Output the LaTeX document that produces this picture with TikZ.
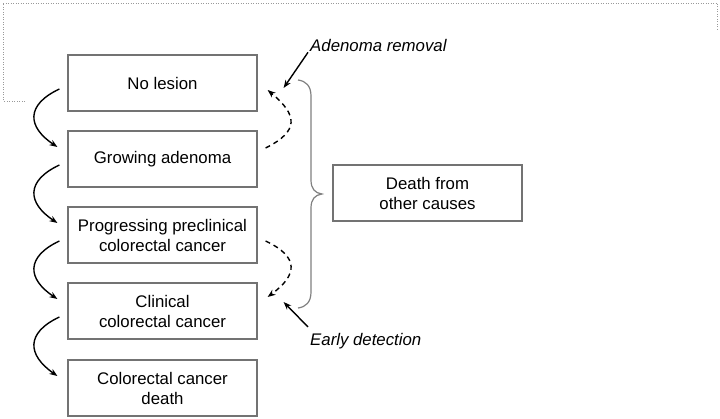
\documentclass[tikz,border=0pt]{standalone}
\usepackage{fontspec}
\setmainfont{Liberation Sans}
\usetikzlibrary{arrows.meta,calc}
\begin{document}
\begin{tikzpicture}[x=1pt,y=-1pt,
  box/.style={draw=black!55,line width=1.2pt,minimum width=189pt,minimum height=56pt,
    align=center,inner sep=0pt,font=\fontsize{16.8}{20}\selectfont},
  lbl/.style={font=\fontsize{16.8}{20}\selectfont\itshape,inner sep=0pt},
  prog/.style={line width=1.4pt,-{Stealth[length=8pt,width=6pt]}},
  back/.style={line width=1.4pt,dash pattern=on 5pt off 4pt,-{Stealth[length=8pt,width=6pt]}},
  brc/.style={draw=black!50,line width=1.2pt}]
\useasboundingbox (0,0) rectangle (720,419);
\draw[black!40,line width=0.8pt,dash pattern=on 1pt off 1.5pt] (25,101) -- (3,101) -- (3,3) -- (717,3) -- (717,30);
\node[box] (n1) at (162.5,83) {No lesion};
\node[box] (n2) at (162.5,159) {Growing adenoma};
\node[box] (n3) at (162.5,235) {Progressing preclinical\\colorectal cancer};
\node[box] (n4) at (162.5,311) {Clinical\\colorectal cancer};
\node[box] (n5) at (162.5,388) {Colorectal cancer\\death};
\node[box] (d) at (427.5,193) {Death from\\other causes};
\node[lbl,anchor=west] (ar) at (310,46) {Adenoma removal};
\node[lbl,anchor=west] (ed) at (310,341) {Early detection};
% progression arrows
\foreach \a/\b in {n1/n2,n2/n3,n3/n4,n4/n5}{
  \draw[prog] ($(\a.west)+(-8,6)$) .. controls ($(\a.west)+(-42,22)$) and ($(\a.west)+(-40,44)$) .. ($(\b.west)+(-10,-12)$);
}
% dashed back arrows
\draw[back] ($(n2.east)+(8,-11)$) .. controls ($(n2.east)+(42,-28)$) and ($(n1.east)+(40,32)$) .. ($(n1.east)+(10,7)$);
\draw[back] ($(n3.east)+(8,6)$) .. controls ($(n3.east)+(42,22)$) and ($(n4.east)+(40,-36)$) .. ($(n4.east)+(10,-14)$);
% labels' arrows
\coordinate (arT) at ($(n1.east)+(26,5)$);
\coordinate (edT) at ($(n4.east)+(26,-9)$);
\draw[prog] ($(ar.south west)+(-2,0)$) -- (arT);
\draw[prog] ($(ed.north west)+(-2,-6)$) -- (edT);
% brace
\draw[brc] (298,80) .. controls (306,81) and (311,86) .. (311,96)
  -- (311,180) .. controls (311,189) and (315,193) .. (322,194)
  .. controls (315,195) and (311,199) .. (311,208)
  -- (311,292) .. controls (311,302) and (306,307) .. (298,308);
\end{tikzpicture}
\end{document}
